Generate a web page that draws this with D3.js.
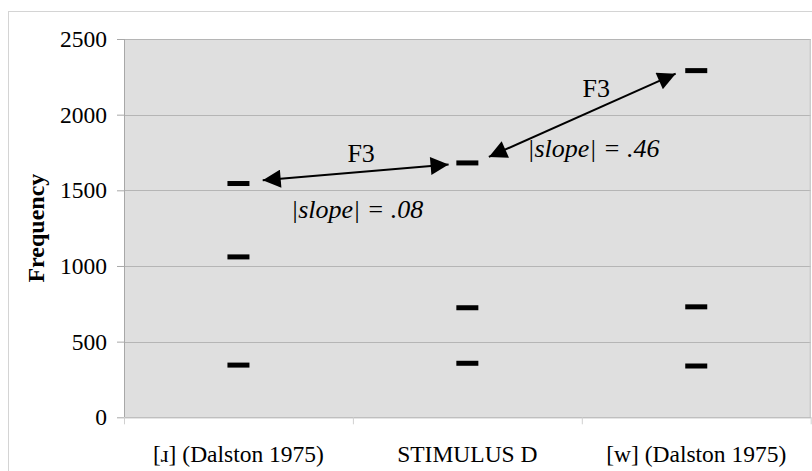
<!DOCTYPE html>
<html>
<head>
<meta charset="utf-8">
<script src="https://cdn.jsdelivr.net/npm/d3@7"></script>
<style>
    body { margin: 0; background: #ffffff; }
    svg { display: block; }
    svg text { font-family: "Liberation Serif", "Times New Roman", Times, "DejaVu Serif", serif; }
</style>
</head>
<body>
<div id="chart"></div>
<script>
const categories = ['[ɹ] (Dalston 1975)', 'STIMULUS D', '[w] (Dalston 1975)'];
const formantValues = [
    [345, 1060, 1545],
    [357, 724, 1681],
    [339, 730, 2291]
];
const yTicks = [0, 500, 1000, 1500, 2000, 2500];

// arrows in (category position, frequency) space
const arrows = [
    { from: [0.106, 1567], to: [0.918, 1671] },
    { from: [1.094, 1721], to: [1.910, 2271] }
];
const arrowLabels = [
    { pos: [0.536, 1690], text: 'F3', italic: false, anchor: 'middle' },
    { pos: [0.230, 1318], text: '|slope| = .08', italic: true, anchor: 'start' },
    { pos: [1.563, 2120], text: 'F3', italic: false, anchor: 'middle' },
    { pos: [1.262, 1720], text: '|slope| = .46', italic: true, anchor: 'start' }
];

const width = 812;
const height = 471;
const margin = { top: 39, right: 1.3, bottom: 53.7, left: 124 };
const innerWidth = width - margin.left - margin.right;
const innerHeight = height - margin.top - margin.bottom;

const svg = d3.select('#chart').append('svg')
    .attr('width', width)
    .attr('height', height);

svg.append('rect')
    .attr('x', 8.5).attr('y', 11.5)
    .attr('width', width).attr('height', height)
    .attr('fill', '#ffffff')
    .attr('stroke', '#d4d4d4');

const defs = svg.append('defs');
defs.append('marker')
    .attr('id', 'arrowhead')
    .attr('viewBox', '0 0 10 10')
    .attr('refX', 10).attr('refY', 5)
    .attr('markerWidth', 20).attr('markerHeight', 18)
    .attr('markerUnits', 'userSpaceOnUse')
    .attr('orient', 'auto-start-reverse')
    .append('path')
    .attr('d', 'M0,0 L10,5 L0,10 Z')
    .attr('fill', '#000');

const chartGroup = svg.append('g')
    .attr('transform', `translate(${margin.left},${margin.top})`);

const xBand = d3.scaleBand()
    .domain(categories)
    .range([0, innerWidth]);

const xPos = d3.scaleLinear()
    .domain([0, categories.length - 1])
    .range([xBand.bandwidth() / 2, innerWidth - xBand.bandwidth() / 2]);

const yScale = d3.scaleLinear()
    .domain([0, 2500])
    .range([innerHeight, 0]);

chartGroup.append('rect')
    .attr('width', innerWidth)
    .attr('height', innerHeight)
    .attr('fill', '#dfdfdf');

chartGroup.append('g')
    .selectAll('line')
    .data(yTicks.filter((tick) => tick > 0))
    .enter()
    .append('line')
    .attr('x1', 0).attr('x2', innerWidth)
    .attr('y1', (tick) => Math.round(yScale(tick)) + 0.5)
    .attr('y2', (tick) => Math.round(yScale(tick)) + 0.5)
    .attr('stroke', '#b5b5b5');

chartGroup.append('line')
    .attr('x1', innerWidth - 0.5).attr('x2', innerWidth - 0.5)
    .attr('y1', 0).attr('y2', innerHeight)
    .attr('stroke', '#c0c0c0');

chartGroup.append('g')
    .call(d3.axisLeft(yScale).tickValues(yTicks).tickFormat(d3.format('d')).tickSize(7).tickPadding(10))
    .attr('font-family', null)
    .call((group) => group.selectAll('line').attr('stroke', '#a8a8a8'))
    .call((group) => group.select('.domain').attr('stroke', '#a8a8a8').attr('d', `M0.5,${innerHeight}V0`))
    .call((group) => group.selectAll('text')
        .attr('fill', '#000')
        .style('font-size', '23.5px'));

chartGroup.append('g')
    .attr('transform', `translate(0,${innerHeight})`)
    .call(d3.axisBottom(xBand).tickSize(0).tickPadding(28))
    .attr('font-family', null)
    .call((group) => group.select('.domain').attr('stroke', '#a8a8a8'))
    .call((group) => group.selectAll('text')
        .attr('fill', '#000')
        .style('font-size', '23.5px'));

chartGroup.append('g')
    .selectAll('line')
    .data(d3.range(categories.length + 1))
    .enter()
    .append('line')
    .attr('x1', (index) => index * xBand.step() + 0.5)
    .attr('x2', (index) => index * xBand.step() + 0.5)
    .attr('y1', innerHeight)
    .attr('y2', innerHeight + 7)
    .attr('stroke', '#d0d0d0');

svg.append('text')
    .attr('transform', `translate(44,${margin.top + innerHeight / 2}) rotate(-90)`)
    .attr('text-anchor', 'middle')
    .style('font-size', '24px')
    .style('font-weight', 'bold')
    .text('Frequency');

const markerRows = formantValues.flatMap((values, index) =>
    values.map((value) => ({ index, value })));

chartGroup.selectAll('.formant-mark')
    .data(markerRows)
    .enter()
    .append('rect')
    .attr('class', 'formant-mark')
    .attr('x', (datum) => xPos(datum.index) - 11)
    .attr('y', (datum) => yScale(datum.value) - 2.5)
    .attr('width', 22)
    .attr('height', 5)
    .attr('fill', '#000');

chartGroup.selectAll('.slope-arrow')
    .data(arrows)
    .enter()
    .append('line')
    .attr('class', 'slope-arrow')
    .attr('x1', (datum) => xPos(datum.from[0]))
    .attr('y1', (datum) => yScale(datum.from[1]))
    .attr('x2', (datum) => xPos(datum.to[0]))
    .attr('y2', (datum) => yScale(datum.to[1]))
    .attr('stroke', '#000')
    .attr('stroke-width', 2)
    .attr('marker-start', 'url(#arrowhead)')
    .attr('marker-end', 'url(#arrowhead)');

chartGroup.selectAll('.arrow-label')
    .data(arrowLabels)
    .enter()
    .append('text')
    .attr('class', 'arrow-label')
    .attr('x', (datum) => xPos(datum.pos[0]))
    .attr('y', (datum) => yScale(datum.pos[1]))
    .attr('text-anchor', (datum) => datum.anchor)
    .style('font-size', '26px')
    .style('font-style', (datum) => datum.italic ? 'italic' : 'normal')
    .text((datum) => datum.text);
</script>
</body>
</html>
